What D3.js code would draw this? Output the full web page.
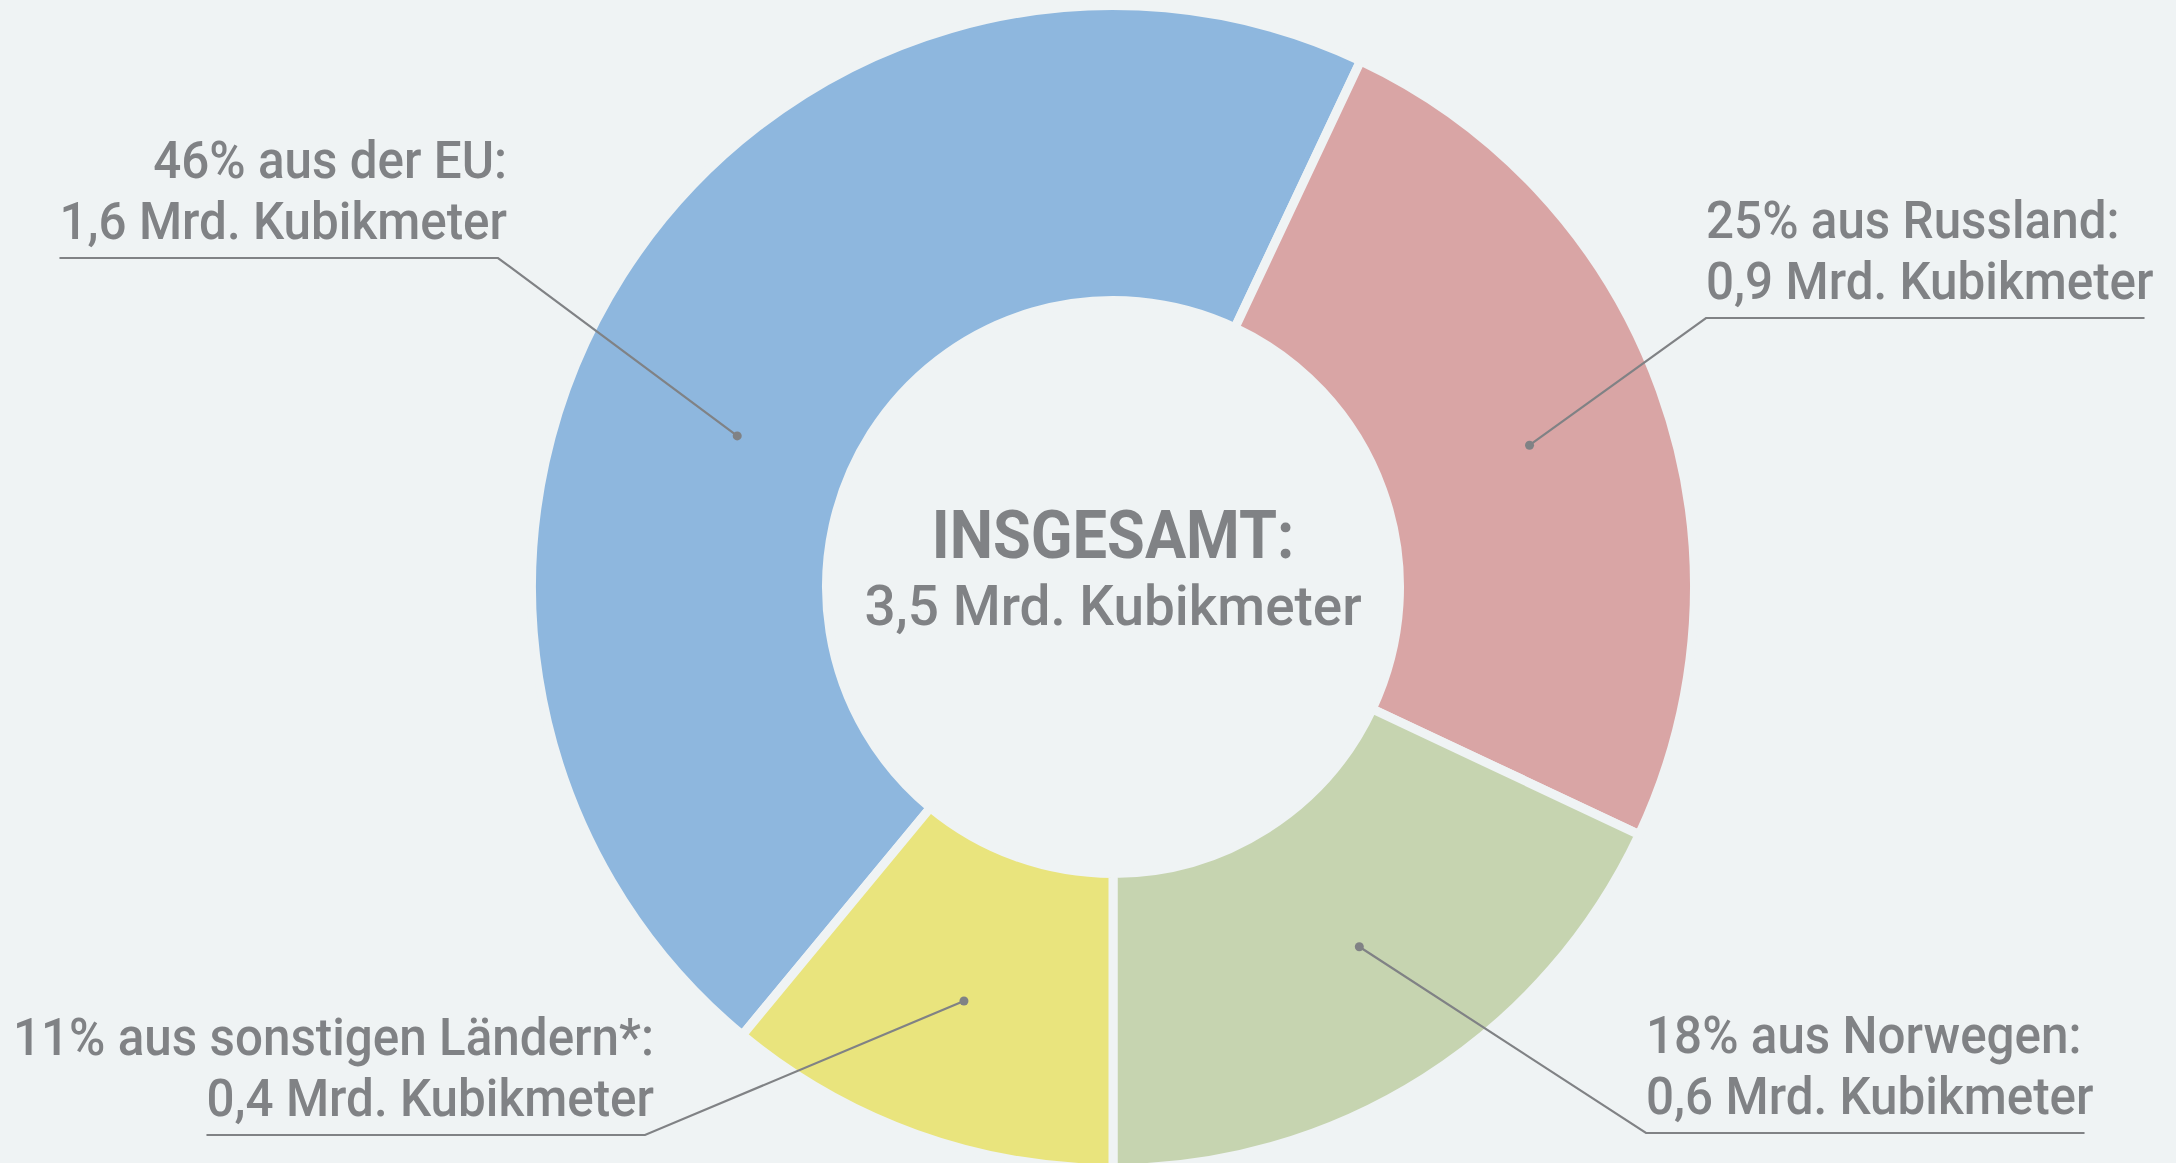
<!DOCTYPE html>
<html>
<head>
<meta charset="utf-8">
<script src="https://cdn.jsdelivr.net/npm/d3@7"></script>
<style>
  html, body { margin: 0; padding: 0; background: #eff3f4; }
  #chart { width: 2176px; height: 1163px; overflow: hidden; }
</style>
</head>
<body>
<div id="chart"></div>
<script>
// Data
const regions = ['der EU', 'Russland', 'Norwegen', 'sonstigen Ländern*'];
const shares = [46, 25, 18, 11];
const volumes = [1.6, 0.9, 0.6, 0.4];
const total = 3.5;
const colors = ['#8eb7de', '#d9a5a5', '#c6d4b0', '#e9e47d'];

// Label layout (anchor, x, first baseline), dot placement
const labelAnchor = ['end', 'start', 'start', 'end'];
const labelX = [507, 1706, 1646, 654];
const labelY = [178, 238, 1053, 1055];
const dotShift = [-10.5, 1, -2, 0];
const dotRadius = [405, 440, 436, 440];

const fmt = (v) => v.toFixed(1).replace('.', ',');

// Canvas
const width = 2176;
const height = 1163;
const bg = '#eff3f4';
const textColor = '#808285';

const canvas = d3.select('#chart')
  .append('svg')
  .attr('width', width)
  .attr('height', height)
  .style('font-family', 'Roboto, "DejaVu Sans", sans-serif');

canvas.append('rect').attr('width', width).attr('height', height).attr('fill', bg);

// Donut
const cx = 1113;
const cy = 587;
const gap = 9;
const rad = (deg) => (deg * Math.PI) / 180;

const data = regions.map((name, i) => ({ name, share: shares[i], volume: volumes[i], i }));

const pie = d3.pie()
  .sort(null)
  .value((d) => d.share)
  .startAngle(rad(-140.4))
  .endAngle(rad(219.6));

const arc = d3.arc().innerRadius(291 - gap / 2).outerRadius(577 + gap / 2);

const chart = canvas.append('g').attr('transform', `translate(${cx}, ${cy})`);
const arcs = pie(data);

chart.selectAll('path')
  .data(arcs).enter()
  .append('path')
  .attr('d', arc)
  .attr('fill', (d) => colors[d.data.i])
  .attr('stroke', bg)
  .attr('stroke-width', gap)
  .attr('stroke-linejoin', 'miter');

// Text helper: horizontally squeezed to mimic the condensed original face
const addText = (parent, x, y, str, size, anchor, weight, sx) => {
  const g = parent.append('g').attr('transform', `translate(${x}, ${y}) scale(${sx}, 1)`);
  return g.append('text')
    .attr('text-anchor', anchor)
    .attr('font-size', size)
    .attr('font-weight', weight)
    .attr('fill', textColor)
    .text(str);
};

// Center text
addText(canvas, cx, 558, 'INSGESAMT:', 66, 'middle', 'bold', 0.93);
addText(canvas, cx, 625, `${fmt(total)} Mrd. Kubikmeter`, 56, 'middle', 500, 0.98);

// Labels with leader lines (underline spans the second line)
const lineGap = 61;
const sq = 0.95;
arcs.forEach((a) => {
  const i = a.data.i;
  const mid = (a.startAngle + a.endAngle) / 2 + rad(dotShift[i]);
  const dot = [cx + dotRadius[i] * Math.sin(mid), cy - dotRadius[i] * Math.cos(mid)];

  addText(canvas, labelX[i], labelY[i], `${a.data.share}% aus ${a.data.name}:`, 52, labelAnchor[i], 500, sq);
  const t2 = addText(canvas, labelX[i], labelY[i] + lineGap, `${fmt(a.data.volume)} Mrd. Kubikmeter`, 52, labelAnchor[i], 500, sq);
  const w = t2.node().getComputedTextLength() * sq;

  const uy = labelY[i] + lineGap + 19;
  const isEnd = labelAnchor[i] === 'end';
  const left = isEnd ? labelX[i] - w : labelX[i];
  const right = isEnd ? labelX[i] - 9 : labelX[i] + w - 9;
  const elbow = isEnd ? right : left;
  const far = isEnd ? left : right;

  canvas.append('polyline')
    .attr('points', [[far, uy], [elbow, uy], dot].map((p) => p.join(',')).join(' '))
    .attr('fill', 'none')
    .attr('stroke', textColor)
    .attr('stroke-width', 2.2);

  canvas.append('circle')
    .attr('cx', dot[0])
    .attr('cy', dot[1])
    .attr('r', 4.5)
    .attr('fill', textColor);
});
</script>
</body>
</html>
